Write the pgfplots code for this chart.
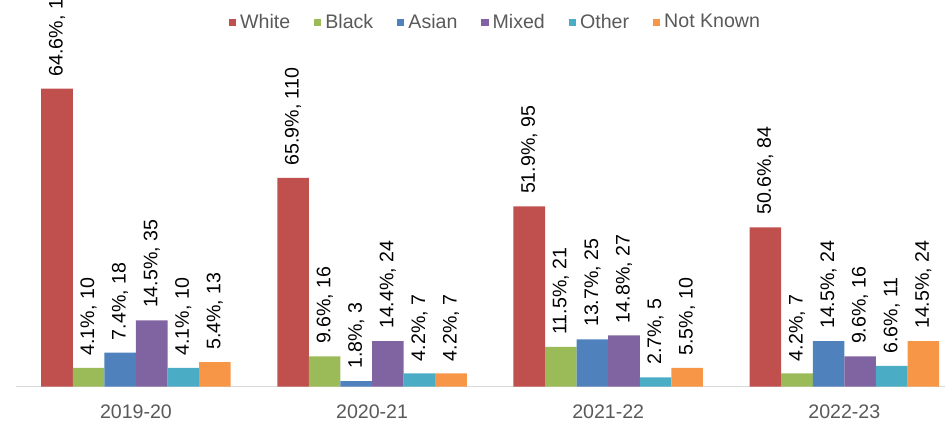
\documentclass[border=0pt]{standalone}
\usepackage{fontspec}
\setmainfont{Liberation Sans}
\usepackage{pgfplots}
\pgfplotsset{compat=1.18}
\definecolor{cwhite}{HTML}{C0504D}
\definecolor{cblack}{HTML}{9BBB59}
\definecolor{casian}{HTML}{4F81BD}
\definecolor{cmixed}{HTML}{8064A2}
\definecolor{cother}{HTML}{4BACC6}
\definecolor{cnk}{HTML}{F79646}
\definecolor{axisgrey}{HTML}{D9D9D9}
\definecolor{textgrey}{HTML}{595959}

\begin{document}
\begin{tikzpicture}
\begin{axis}[
    scale only axis,
    width=465pt,
    height=193.5pt,
    ybar=0pt,
    bar width=15.8pt,
    xmin=-0.508, xmax=3.428,
    ymin=0, ymax=203.7,
    axis x line*=bottom,
    axis y line=none,
    x axis line style={draw=axisgrey, line width=0.6pt, -},
    xtick={0,1,2,3},
    xticklabels={2019-20,2020-21,2021-22,2022-23},
    major tick length=0pt,
    xticklabel style={font=\fontsize{9.8}{11}\selectfont, text=textgrey, inner sep=0pt, anchor=north, yshift=-9pt},
    point meta=explicit symbolic,
    nodes near coords,
    every node near coord/.append style={font=\fontsize{9.8}{11}\selectfont, text=black, rotate=90, anchor=west, inner xsep=6pt, inner ysep=0pt, overlay},
    legsq/.style={legend image code/.code={\fill[##1] (0pt,-1.8pt) rectangle (3.6pt,1.8pt);}},
    legend columns=6,
    legend style={draw=none, fill=none, at={(0.517,0.942)}, anchor=center,
        font=\fontsize{9.8}{11}\selectfont, text=textgrey,
        /tikz/every even column/.append style={column sep=10pt}},
]
\addplot[fill=cwhite, draw=none, legsq] coordinates {(0,157) [64.6\%, 157] (1,110) [65.9\%, 110] (2,95) [51.9\%, 95] (3,84) [50.6\%, 84]};
\addplot[fill=cblack, draw=none, legsq] coordinates {(0,10) [4.1\%, 10] (1,16) [9.6\%, 16] (2,21) [11.5\%, 21] (3,7) [4.2\%, 7]};
\addplot[fill=casian, draw=none, legsq] coordinates {(0,18) [7.4\%, 18] (1,3) [1.8\%, 3] (2,25) [13.7\%, 25] (3,24) [14.5\%, 24]};
\addplot[fill=cmixed, draw=none, legsq] coordinates {(0,35) [14.5\%, 35] (1,24) [14.4\%, 24] (2,27) [14.8\%, 27] (3,16) [9.6\%, 16]};
\addplot[fill=cother, draw=none, legsq] coordinates {(0,10) [4.1\%, 10] (1,7) [4.2\%, 7] (2,5) [2.7\%, 5] (3,11) [6.6\%, 11]};
\addplot[fill=cnk, draw=none, legsq] coordinates {(0,13) [5.4\%, 13] (1,7) [4.2\%, 7] (2,10) [5.5\%, 10] (3,24) [14.5\%, 24]};
\legend{White,Black,Asian,Mixed,Other,Not Known}
\end{axis}
\path ([xshift=-8pt]current axis.north west) -- ([xshift=-8pt,yshift=-17pt]current axis.south west);
\end{tikzpicture}
\end{document}
